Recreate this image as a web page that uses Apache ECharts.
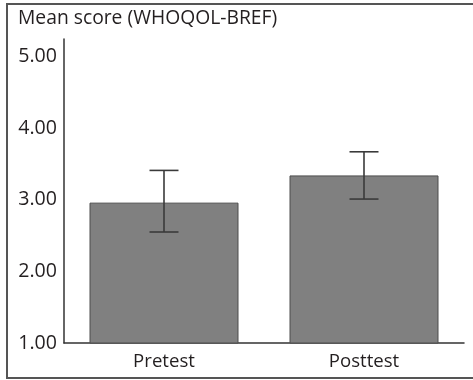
<!DOCTYPE html>
<html><head><meta charset="utf-8">
<script src="https://cdn.jsdelivr.net/npm/echarts@6/dist/echarts.min.js"></script>
<style>html,body{margin:0;padding:0;background:#fff}#c{width:473px;height:380px}</style>
</head><body><div id="c"></div>
<script>
const categories = ['Pretest', 'Posttest'];
const means = [2.96, 3.34];
const lower = [2.55, 3.01];
const upper = [3.41, 3.67];
const yTicks = [1, 2, 3, 4, 5];

const FONT = '"Open Sans", sans-serif';
const TXT = '#231f20';
const chart = echarts.init(document.getElementById('c'));
chart.setOption({
  animation: false,
  graphic: [{
    type: 'rect', shape: { x: 7, y: 4, width: 480, height: 374 },
    style: { fill: 'none', stroke: '#555', lineWidth: 2 }, z: 0
  }, {
    type: 'text', left: 18, top: 9,
    style: { text: 'Mean score (WHOQOL-BREF)', font: '19.3px ' + FONT, fill: TXT }
  }],
  grid: { left: 64, right: 9, top: 39, bottom: 37 },
  xAxis: {
    type: 'category', data: categories,
    axisLine: { lineStyle: { color: '#333', width: 1.5 } },
    axisTick: { show: false },
    axisLabel: { fontFamily: FONT, fontSize: 18.6, color: TXT, margin: 9 }
  },
  yAxis: {
    type: 'value', min: 1, max: 5.245, interval: 1,
    splitLine: { show: false },
    axisLine: { show: true, lineStyle: { color: '#333', width: 1.5 } },
    axisTick: { show: false },
    axisLabel: {
      fontFamily: FONT, fontSize: 19.6, color: TXT, margin: 7,
      formatter: v => yTicks.includes(v) ? v.toFixed(2) : ''
    }
  },
  series: [{
    type: 'bar', data: means, barWidth: 149,
    itemStyle: { color: '#808080', borderColor: '#4d4d4d', borderWidth: 1 }
  }, {
    type: 'custom',
    data: categories.map((c, i) => [i, lower[i], upper[i]]),
    renderItem: (params, api) => {
      const lo = api.coord([api.value(0), api.value(1)]);
      const hi = api.coord([api.value(0), api.value(2)]);
      const hw = 14.5;
      const st = { stroke: '#3a3a3a', lineWidth: 1.6 };
      return { type: 'group', children: [
        { type: 'line', shape: { x1: hi[0], y1: hi[1], x2: lo[0], y2: lo[1] }, style: st },
        { type: 'line', shape: { x1: hi[0] - hw, y1: hi[1], x2: hi[0] + hw, y2: hi[1] }, style: st },
        { type: 'line', shape: { x1: lo[0] - hw, y1: lo[1], x2: lo[0] + hw, y2: lo[1] }, style: st }
      ]};
    },
    z: 5
  }]
});
</script></body></html>
